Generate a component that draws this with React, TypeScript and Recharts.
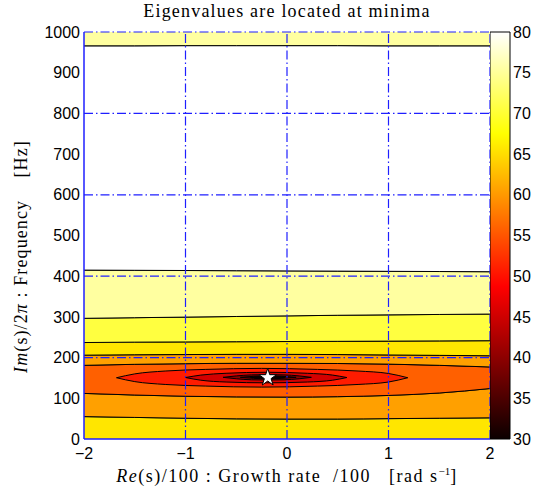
import React from 'react';
import { ComposedChart, Area, XAxis, YAxis, ZAxis, Scatter, ReferenceLine, BarChart, Bar } from 'recharts';

// contour lines that run across the whole plot, sampled at these x values
const lineX = [-2, -1.5, -1, -0.5, 0, 0.5, 1, 1.5, 2];
const c55 = [55, 53, 51, 49.5, 49, 49, 50, 51, 52];
const c104 = [112, 108, 105, 103.5, 103, 104, 107, 113, 124];
const c187 = [181, 183.5, 185, 186, 186, 185.5, 184, 181, 177];
const c205 = [206, 207, 207.5, 208, 208, 207.5, 206.5, 205.5, 204.5];
const c237 = [237, 238, 238.5, 239, 239.5, 240, 240.5, 241, 241.5];
const c300 = [296.5, 298, 299.5, 301, 302.5, 304, 305, 306, 307];
const c413 = [415, 414.5, 414, 413.5, 413, 412.5, 412, 411.5, 411];
const c966 = [966, 966, 966.5, 966.5, 966.5, 966.5, 966, 966, 966];

// closed contours around the minimum
const e50X = [-1.68, -1.5, -1.2, -0.8, -0.25, 0.3, 0.7, 1.0, 1.19];
const e50Top = [150.5, 160, 167, 171, 173.5, 171, 167, 161, 150.5];
const e50Bot = [150.5, 141, 134, 130, 127.5, 130, 134, 140, 150.5];
const e45X = [-1.0, -0.85, -0.6, -0.2, 0.2, 0.45, 0.59];
const e45Top = [151, 157, 161.5, 164, 161.5, 157, 151];
const e45Bot = [151, 144.5, 140, 138, 140, 144.5, 151];
const e40X = [-0.63, -0.5, -0.35, -0.19, -0.03, 0.12, 0.24];
const e40Top = [151.5, 155, 157.5, 158, 157.5, 155, 151.5];
const e40Bot = [151.5, 148, 145.5, 145, 145.5, 148, 151.5];
const e35X = [-0.46, -0.33, -0.19, -0.05, 0.09];
const e35Top = [151.5, 154, 155, 154, 151.5];
const e35Bot = [151.5, 149, 148, 149, 151.5];
const e30X = [-0.36, -0.19, -0.02];
const e30Top = [151.5, 153.5, 151.5];
const e30Bot = [151.5, 149.5, 151.5];

const minimum = [{ x: -0.19, y: 151 }];

const xTicks = [-2, -1, 0, 1, 2];
const yTicks = [0, 100, 200, 300, 400, 500, 600, 700, 800, 900, 1000];
const barTicks = [30, 35, 40, 45, 50, 55, 60, 65, 70, 75, 80];
const gridX = [-1, 0, 1];
const gridY = [200, 400, 600, 800, 1000];

type Row = { x: number; [k: string]: number };
const rows = new Map<number, Row>();
const put = (xs: number[], key: string, vals: number[]) => {
  xs.forEach((x, i) => {
    const r = rows.get(x) ?? { x };
    r[key] = vals[i];
    rows.set(x, r);
  });
};
put(lineX, 'c55', c55);
put(lineX, 'c104', c104);
put(lineX, 'c187', c187);
put(lineX, 'c205', c205);
put(lineX, 'c237', c237);
put(lineX, 'c300', c300);
put(lineX, 'c413', c413);
put(lineX, 'c966', c966);
put(e50X, 'e50t', e50Top);
put(e50X, 'e50b', e50Bot);
put(e45X, 'e45t', e45Top);
put(e45X, 'e45b', e45Bot);
put(e40X, 'e40t', e40Top);
put(e40X, 'e40b', e40Bot);
put(e35X, 'e35t', e35Top);
put(e35X, 'e35b', e35Bot);
put(e30X, 'e30t', e30Top);
put(e30X, 'e30b', e30Bot);
const table = [...rows.values()].sort((a, b) => a.x - b.x);

const range = (lo: string, hi: string) => (d: Row) =>
  d[lo] == null || d[hi] == null ? [null, null] : [d[lo], d[hi]];

const blue = '#1f1fff';
const serif = '"Liberation Serif", "Times New Roman", serif';
const sans = '"Liberation Sans", Arial, sans-serif';

const band = (key: string, dk: any, fill: string, base?: number) => (
  <Area
    key={key}
    type="monotone"
    dataKey={dk}
    baseValue={base}
    fill={fill}
    fillOpacity={1}
    stroke="#000"
    strokeWidth={1}
    connectNulls
    dot={false}
    activeDot={false}
    isAnimationActive={false}
  />
);

const App = () => (
  <div style={{ position: 'absolute', left: 0, top: 0, width: 538, height: 495, background: '#fff' }}>
    <div style={{ position: 'absolute', left: 37, width: 500, top: 1, textAlign: 'center', fontFamily: serif, fontSize: 18, letterSpacing: 1.2, whiteSpace: 'pre' }}>
      Eigenvalues are located at minima
    </div>
    <div style={{ position: 'absolute', left: 37, width: 500, top: 465, textAlign: 'center', fontFamily: serif, fontSize: 18, letterSpacing: 1.5, whiteSpace: 'pre' }}>
      <i>Re</i>(s)/100 : Growth rate  /100   [rad s<sup style={{ fontSize: 11, letterSpacing: 0 }}>−1</sup>]
    </div>
    <div style={{ position: 'absolute', left: 21, top: 257, width: 320, marginLeft: -160, marginTop: -11, textAlign: 'center', transform: 'rotate(-90deg)', fontFamily: serif, fontSize: 18, letterSpacing: 1.1, whiteSpace: 'pre' }}>
      <i>Im</i>(s)/2<i>π</i> : Frequency    [Hz]
    </div>
    <div style={{ position: 'absolute', left: 0, top: 0 }}>
      <ComposedChart width={538} height={495} data={table} margin={{ top: 32, right: 48, bottom: 16, left: 24 }}>
        <XAxis
          dataKey="x"
          type="number"
          domain={[-2, 2]}
          ticks={xTicks}
          allowDataOverflow
          height={40}
          axisLine={{ stroke: blue, strokeWidth: 1.5 }}
          tickLine={false}
          tickSize={0}
          tickMargin={9}
          tick={{ fill: '#000', fontSize: 16, fontFamily: sans }}
          tickFormatter={(v: number) => (v < 0 ? '−' + Math.abs(v) : String(v))}
        />
        <YAxis
          dataKey="y"
          type="number"
          domain={[0, 1000]}
          ticks={yTicks}
          allowDataOverflow
          width={60}
          axisLine={{ stroke: blue, strokeWidth: 1.5 }}
          tickLine={false}
          tickSize={0}
          tickMargin={4}
          tick={{ fill: '#000', fontSize: 16, fontFamily: sans }}
        />
        <ZAxis range={[95, 95]} />
        {band('b0', 'c55', '#ffe600', 0)}
        {band('b1', range('c55', 'c104'), '#ffa000')}
        {band('b2', range('c104', 'c187'), '#ff6000')}
        {band('b3', range('c187', 'c205'), '#ffa000')}
        {band('b4', range('c205', 'c237'), '#ffe600')}
        {band('b5', range('c237', 'c300'), '#ffff40')}
        {band('b6', range('c300', 'c413'), '#ffffa0')}
        {band('b7', range('c413', 'c966'), '#ffffff')}
        {band('b8', 'c966', '#ffffa0', 1000)}
        {band('e50', range('e50b', 'e50t'), '#ff1c00')}
        {band('e45', range('e45b', 'e45t'), '#d40000')}
        {band('e40', range('e40b', 'e40t'), '#8c0000')}
        {band('e35', range('e35b', 'e35t'), '#480000')}
        {band('e30', range('e30b', 'e30t'), '#100000')}
        {gridX.map(v => (
          <ReferenceLine key={'gx' + v} x={v} stroke={blue} strokeWidth={1.2} strokeDasharray="9 3 1.5 3" />
        ))}
        {gridY.map(v => (
          <ReferenceLine key={'gy' + v} y={v} stroke={blue} strokeWidth={1.2} strokeDasharray="9 3 1.5 3" />
        ))}
        <ReferenceLine x={2} stroke={blue} strokeWidth={1.2} strokeDasharray="9 3 1.5 3" />
        <Scatter data={minimum} shape="star" fill="#fff" stroke="#000" strokeWidth={1} isAnimationActive={false} />
      </ComposedChart>
    </div>
    <div style={{ position: 'absolute', left: 490, top: 0 }}>
      <BarChart width={48} height={495} data={[{ name: 'cb', span: [30, 80] }]} margin={{ top: 32, right: 0, bottom: 56, left: 0 }} barCategoryGap={0}>
        <defs>
          <linearGradient id="hotMap" x1="0" y1="0" x2="0" y2="1">
            <stop offset="0" stopColor="#ffffff" />
            <stop offset="0.25" stopColor="#ffff00" />
            <stop offset="0.625" stopColor="#ff0000" />
            <stop offset="1" stopColor="#0b0000" />
          </linearGradient>
        </defs>
        <XAxis dataKey="name" hide />
        <YAxis
          orientation="right"
          type="number"
          domain={[30, 80]}
          ticks={barTicks}
          width={28}
          axisLine={false}
          tickLine={false}
          tickSize={0}
          tickMargin={3}
          tick={{ fill: '#000', fontSize: 16, fontFamily: sans, textAnchor: 'start' }}
        />
        <Bar dataKey="span" fill="url(#hotMap)" stroke="#000" strokeWidth={1} isAnimationActive={false} />
      </BarChart>
    </div>
  </div>
);

export default App;
